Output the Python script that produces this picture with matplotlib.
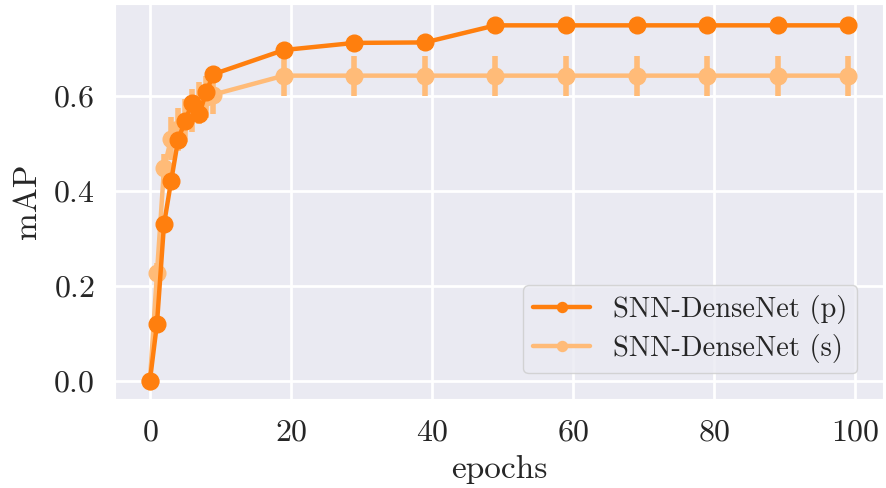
import numpy as np
import matplotlib
matplotlib.use('Agg')
import matplotlib.pyplot as plt
import seaborn as sns

sns.set_style('darkgrid')
plt.rcParams['font.family'] = 'serif'
plt.rcParams['font.serif'] = ['cmr10']
plt.rcParams['mathtext.fontset'] = 'cm'
plt.rcParams['axes.formatter.use_mathtext'] = True

# epochs where mAP was evaluated
epochs = [0, 1, 2, 3, 4, 5, 6, 7, 8, 9, 19, 29, 39, 49, 59, 69, 79, 89, 99]

# SNN-DenseNet (p)
map_p = [0.0, 0.12, 0.33, 0.42, 0.508, 0.548, 0.586, 0.562, 0.609, 0.646,
         0.697, 0.712, 0.713, 0.749, 0.749, 0.749, 0.749, 0.749, 0.749]

# SNN-DenseNet (s) with std
map_s = [0.0, 0.227, 0.448, 0.510, 0.530, 0.548, 0.570, 0.585, 0.598, 0.603,
         0.643, 0.643, 0.643, 0.643, 0.643, 0.643, 0.643, 0.643, 0.643]
err_s = [0.0, 0.02, 0.03, 0.045, 0.045, 0.045, 0.045, 0.045, 0.045, 0.04,
         0.042, 0.042, 0.042, 0.042, 0.042, 0.042, 0.042, 0.042, 0.042]

c_p = '#ff7f0e'
c_s = '#ffbb78'

fig = plt.figure(figsize=(8.86, 4.88), dpi=100)
ax = fig.add_axes([0.1298, 0.1824, 0.8668, 0.8094])
ax.grid(True, color='white', lw=2)

ax.errorbar(epochs, map_s, yerr=err_s, fmt='none', ecolor=c_s, elinewidth=4, capsize=0)
line_s, = ax.plot(epochs, map_s, '-o', color=c_s, lw=3.2, ms=12, label='SNN-DenseNet (s)')
line_p, = ax.plot(epochs, map_p, '-o', color=c_p, lw=3.2, ms=12, label='SNN-DenseNet (p)')

ax.set_ylim(-0.0386, 0.794)
ax.set_xticks([0, 20, 40, 60, 80, 100])
ax.set_yticks([0.0, 0.2, 0.4, 0.6])
ax.tick_params(labelsize=23, pad=11)
ax.set_xlabel('epochs', fontsize=24, labelpad=6)
ax.set_ylabel('mAP', fontsize=24, labelpad=8)
ax.legend(handles=[line_p, line_s], loc='lower right', fontsize=20.5,
          markerscale=0.6, borderaxespad=0.9, labelspacing=0.35,
          borderpad=0.35)

plt.savefig('out.png')
